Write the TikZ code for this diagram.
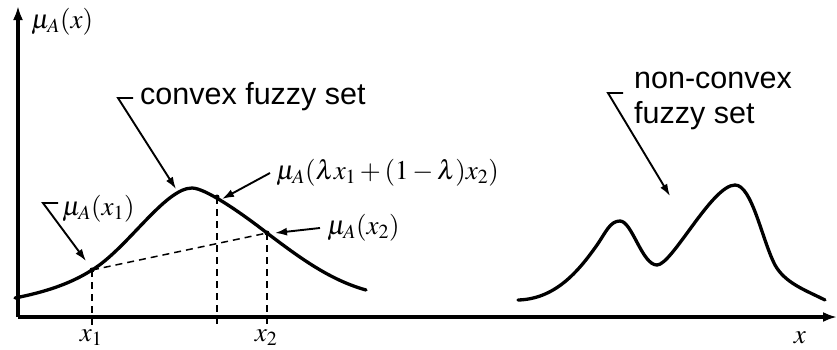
\documentclass[tikz,border=0pt]{standalone}
\usepackage{mathptmx}
\usepackage{fontspec}
\setmainfont{Liberation Sans}
\usetikzlibrary{arrows.meta}
\begin{document}
\begin{tikzpicture}[x=1pt,y=-1pt,
  axis/.style={line width=3.6pt,-{Latex[length=14pt,width=10pt]}},
  curve/.style={line width=3.3pt,line cap=round},
  guide/.style={line width=1.5pt,dash pattern=on 7pt off 5pt},
  callout/.style={line width=1.9pt,-{Latex[length=12pt,width=8pt]}},
  dot/.style={fill=black,circle,inner sep=0pt,minimum size=5pt},
  txt/.style={font=\fontsize{30.5}{35}\selectfont,inner sep=0pt},
  mth/.style={font=\fontsize{27}{30}\selectfont,inner sep=0pt}]
\useasboundingbox (0,0) rectangle (837,349);
% axes
\coordinate (O) at (18,317);
\coordinate (ytop) at (18,6);
\coordinate (xend) at (837,317);
\draw[axis] (O) -- (ytop);
\draw[axis] (O) -- (xend);
\node[mth,anchor=west] (ylab) at (31,22) {$\mu_A(x)$};
% convex curve
\coordinate (p1) at (92,270);
\coordinate (pl) at (217,197);
\coordinate (p2) at (267,233);
\draw[curve] (15,298) .. controls (45,292) and (70,284) .. (p1)
  .. controls (127,249) and (165,188) .. (192,188)
  .. controls (205,188) and (240,212) .. (p2)
  .. controls (300,258) and (330,280) .. (366,290);
% guides
\coordinate (b1) at (92,329);
\coordinate (bl) at (217,326);
\coordinate (b2) at (267,329);
\draw[guide] (p1) -- (b1);
\draw[guide] (pl) -- (bl);
\draw[guide] (p2) -- (b2);
\draw[guide] (p1) -- (p2);
\node[dot] (dp1) at (p1) {};
\node[dot] (dpl) at (pl) {};
\node[dot] (dp2) at (p2) {};
\node[mth] (x1) at (91,338) {$x_1$};
\node[mth] (x2) at (266,338) {$x_2$};
\node[mth] (xl) at (800,338) {$x$};
% labels
\node[txt,anchor=west] (conv) at (140,97) {convex fuzzy set};
\coordinate (c0) at (133,98);
\coordinate (c1) at (118,98);
\coordinate (c2) at (176,189);
\draw[callout] (c0) -- (c1) -- (c2);
\node[mth,anchor=west] (mx1) at (62,209) {$\mu_A(x_1)$};
\coordinate (d0) at (58,203);
\coordinate (d1) at (43,203);
\coordinate (d2) at (86,261);
\draw[callout] (d0) -- (d1) -- (d2);
\node[mth,anchor=west] (ml) at (276,173) {$\mu_A(\lambda x_1+(1-\lambda)x_2)$};
\coordinate (e0) at (270,173);
\draw[callout] (e0) -- ([xshift=5pt,yshift=-2pt]pl);
\node[mth,anchor=west] (mx2) at (327,228) {$\mu_A(x_2)$};
\coordinate (f0) at (320,228);
\draw[callout] (f0) -- ([xshift=8pt]p2);
% non-convex
\draw[curve] (518,300) .. controls (555,299) and (578,272) .. (597,245)
  .. controls (606,232) and (610,221) .. (620,221)
  .. controls (632,221) and (642,265) .. (657,265)
  .. controls (672,265) and (712,185) .. (735,185)
  .. controls (752,185) and (762,240) .. (775,265)
  .. controls (785,283) and (805,290) .. (825,300);
\node[txt,anchor=north west,align=left] (nc) at (634,72) {non-convex\\fuzzy set};
\coordinate (g0) at (623,93);
\coordinate (g1) at (608,93);
\coordinate (g2) at (670,196);
\draw[callout] (g0) -- (g1) -- (g2);
\end{tikzpicture}
\end{document}
